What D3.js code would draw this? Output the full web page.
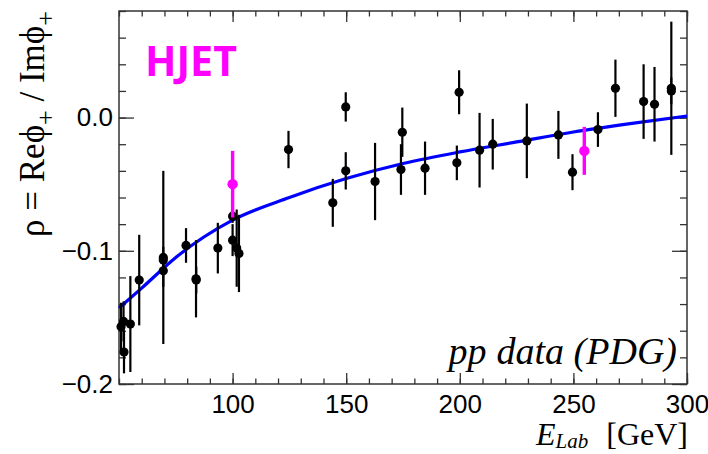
<!DOCTYPE html>
<html><head><meta charset="utf-8">
<script src="https://cdn.jsdelivr.net/npm/d3@7"></script>
<style>body{margin:0;background:#fff}svg{display:block}</style>
</head><body>
<svg id="chart" width="708" height="454"></svg>
<script>
// PDG pp data
const pdgE   = [50.9, 52.0, 52.2, 55.0, 58.9, 69.5, 69.5, 69.5, 79.5, 83.9, 84.0, 93.5, 100.0, 100.0, 101.8, 102.8, 124.6, 144.1, 149.8, 149.8, 162.7, 174.1, 174.7, 184.7, 198.7, 199.7, 208.7, 214.5, 229.5, 243.4, 249.6, 260.8, 268.5, 280.9, 285.7, 293.1, 293.1];
const pdgRho = [-0.157, -0.153, -0.176, -0.155, -0.122, -0.105, -0.107, -0.115, -0.096, -0.121, -0.122, -0.098, -0.074, -0.092, -0.098, -0.102, -0.024, -0.064, 0.008, -0.040, -0.048, -0.039, -0.011, -0.038, -0.034, 0.019, -0.0245, -0.020, -0.0175, -0.013, -0.041, -0.009, 0.022, 0.012, 0.010, 0.022, 0.020];
const pdgErr = [0.018, 0.015, 0.016, 0.036, 0.034, 0.065, 0.010, 0.012, 0.013, 0.029, 0.010, 0.019, 0.005, 0.012, 0.029, 0.029, 0.014, 0.018, 0.011, 0.014, 0.029, 0.019, 0.0185, 0.020, 0.013, 0.0165, 0.028, 0.019, 0.028, 0.018, 0.0135, 0.013, 0.0215, 0.028, 0.028, 0.050, 0.010];
// HJET points
const hjetE   = [100.0, 254.8];
const hjetRho = [-0.050, -0.025];
const hjetErr = [0.025, 0.018];
// fit curve samples
const fitE   = [50, 60, 75, 100, 125, 150, 175, 200, 225, 250, 275, 300];
const fitRho = [-0.143, -0.128, -0.105, -0.077, -0.060, -0.0458, -0.0345, -0.0258, -0.0183, -0.0108, -0.0045, 0.0012];
// ticks
const xMajor = [100, 150, 200, 250, 300];
const xMinor = d3.range(50, 301, 10);
const yMajor = [0.0, -0.1, -0.2];
const yMinor = d3.range(-0.2, 0.0801, 0.02);

const L = 119, R = 687, T = 11, B = 384;
const svg = d3.select("#chart");
const x = d3.scaleLinear().domain([50, 300]).range([L, R]);
const y = d3.scaleLinear().domain([-0.2, 0.08]).range([B, T]);

const fmtY = d => d === 0 ? "0.0" : d3.format(".1f")(d).replace("-", "\u2212");
const axColor = "#333";
function styleAxis(g) {
  g.select(".domain").remove();
  g.selectAll(".tick line").attr("stroke", axColor).attr("stroke-width", 1.3);
  g.selectAll("text").attr("fill", "#000").style("font-family", "Liberation Sans, Arial, sans-serif").style("font-size", "26px");
}
// bottom
svg.append("g").attr("transform", `translate(0,${B})`).call(d3.axisBottom(x).tickValues(xMinor).tickSize(-5.5).tickFormat("")).call(styleAxis);
svg.append("g").attr("transform", `translate(0,${B})`).call(d3.axisBottom(x).tickValues(xMajor).tickSize(-11).tickPadding(11).tickFormat(d3.format("d"))).call(styleAxis);
// top
svg.append("g").attr("transform", `translate(0,${T})`).call(d3.axisTop(x).tickValues(xMinor).tickSize(-5.5).tickFormat("")).call(styleAxis);
svg.append("g").attr("transform", `translate(0,${T})`).call(d3.axisTop(x).tickValues(xMajor).tickSize(-11).tickFormat("")).call(styleAxis);
// left
svg.append("g").attr("transform", `translate(${L},0)`).call(d3.axisLeft(y).tickValues(yMinor).tickSize(-7).tickFormat("")).call(styleAxis);
svg.append("g").attr("transform", `translate(${L},0)`).call(d3.axisLeft(y).tickValues(yMajor).tickSize(-15).tickPadding(6).tickFormat(fmtY)).call(styleAxis);
// right
svg.append("g").attr("transform", `translate(${R},0)`).call(d3.axisRight(y).tickValues(yMinor).tickSize(-7).tickFormat("")).call(styleAxis);
svg.append("g").attr("transform", `translate(${R},0)`).call(d3.axisRight(y).tickValues(yMajor).tickSize(-15).tickFormat("")).call(styleAxis);

// frame
svg.append("rect").attr("x", L).attr("y", T).attr("width", R - L).attr("height", B - T)
  .attr("fill", "none").attr("stroke", axColor).attr("stroke-width", 1.5);

// fit curve
const fitData = fitE.map((e, i) => [e, fitRho[i]]);
svg.append("path").datum(fitData)
  .attr("d", d3.line().x(d => x(d[0])).y(d => y(d[1])).curve(d3.curveMonotoneX))
  .attr("fill", "none").attr("stroke", "#0000ff").attr("stroke-width", 3.2);

// PDG points
const pdg = pdgE.map((e, i) => ({e, r: pdgRho[i], s: pdgErr[i]}));
const gp = svg.append("g");
gp.selectAll("line").data(pdg).join("line")
  .attr("x1", d => x(d.e)).attr("x2", d => x(d.e))
  .attr("y1", d => y(d.r - d.s)).attr("y2", d => y(d.r + d.s))
  .attr("stroke", "#000").attr("stroke-width", 2.2);
gp.selectAll("circle").data(pdg).join("circle")
  .attr("cx", d => x(d.e)).attr("cy", d => y(d.r)).attr("r", 4.6).attr("fill", "#000");

// HJET points
const hj = hjetE.map((e, i) => ({e, r: hjetRho[i], s: hjetErr[i]}));
const gh = svg.append("g");
gh.selectAll("line").data(hj).join("line")
  .attr("x1", d => x(d.e)).attr("x2", d => x(d.e))
  .attr("y1", d => y(d.r - d.s)).attr("y2", d => y(d.r + d.s))
  .attr("stroke", "#ff00ff").attr("stroke-width", 3.4);
gh.selectAll("circle").data(hj).join("circle")
  .attr("cx", d => x(d.e)).attr("cy", d => y(d.r)).attr("r", 5.2).attr("fill", "#ff00ff");

// texts
svg.append("text").attr("x", 145).attr("y", 76)
  .attr("textLength", 92).attr("lengthAdjust", "spacingAndGlyphs")
  .style("font-family", "Open Sans, Liberation Sans, sans-serif").style("font-weight", "bold")
  .style("font-size", "42px").attr("fill", "#ff00ff").text("HJET");

const serif = "Liberation Serif, Times New Roman, serif";
const pt = svg.append("text").attr("x", 677).attr("y", 364).attr("text-anchor", "end")
  .style("font-family", serif).style("font-style", "italic").style("font-size", "38px").attr("fill", "#000");
pt.append("tspan").text("pp");
pt.append("tspan").attr("dx", 10).text("data (PDG)");

// y title
const yt = svg.append("text").attr("transform", "translate(44,124) rotate(-90)").attr("text-anchor", "middle")
  .style("font-family", serif).style("font-size", "35px").attr("fill", "#000");
yt.append("tspan").text("\u03C1 = Re\u03D5");
yt.append("tspan").attr("dy", 10).style("font-size", "26px").text("+");
yt.append("tspan").attr("dy", -10).text(" / Im\u03D5");
yt.append("tspan").attr("dy", 10).style("font-size", "26px").text("+");

// x title
const xt = svg.append("text").attr("x", 688).attr("y", 445).attr("text-anchor", "end")
  .style("font-family", serif).style("font-size", "32px").attr("fill", "#000");
xt.append("tspan").style("font-style", "italic").text("E");
xt.append("tspan").style("font-style", "italic").style("font-size", "21px").attr("dy", 3).text("Lab");
xt.append("tspan").attr("dy", -3).attr("dx", 18).text("[GeV]");
</script>
</body></html>
